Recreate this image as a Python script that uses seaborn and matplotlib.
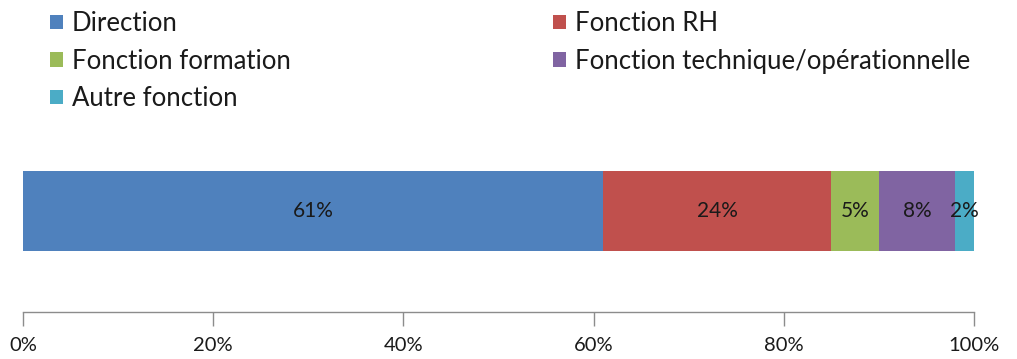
import matplotlib
matplotlib.use("Agg")
import matplotlib.pyplot as plt
import seaborn as sns
import pandas as pd
import numpy as np
from matplotlib.patches import Patch

# Répartition des fonctions (en %)
categories = ["Direction", "Fonction RH", "Fonction formation",
              "Fonction technique/opérationnelle", "Autre fonction"]
values = [61, 24, 5, 8, 2]
colors = ["#4F81BD", "#C0504D", "#9BBB59", "#8064A2", "#4BACC6"]
tick_values = [0, 20, 40, 60, 80, 100]
tick_labels = ["0%", "20%", "40%", "60%", "80%", "100%"]

sns.set_theme(style="white")
plt.rcParams["font.family"] = ["Lato", "DejaVu Sans"]

fig = plt.figure(figsize=(10.17, 3.59), dpi=100)
ax = fig.add_axes([23 / 1017, 1 - 312 / 359, 951 / 1017, 202 / 359])

# Stacked bar: draw cumulative totals from the longest to the shortest
cum = np.cumsum(values)
df = pd.DataFrame({"cat": categories, "val": values, "cum": cum, "row": [""] * len(values)})
for i in range(len(values) - 1, -1, -1):
    sns.barplot(data=df.iloc[[i]], x="cum", y="row", orient="h", color=colors[i],
                saturation=1, width=0.396, ax=ax, linewidth=0)

starts = cum - np.array(values)
for s, v in zip(starts, values):
    ax.text(s + v / 2, 0, f"{v}%", ha="center", va="center", fontsize=15, color="#1a1a1a")

ax.set_xlim(0, 100)
ax.set_ylim(0.5, -0.5)
ax.set_xticks(tick_values)
ax.set_xticklabels(tick_labels, fontsize=14.5)
ax.set_yticks([])
ax.set_xlabel("")
ax.set_ylabel("")
for side in ["left", "top", "right"]:
    ax.spines[side].set_visible(False)
ax.spines["bottom"].set_color("#8c8c8c")
ax.spines["bottom"].set_linewidth(1)
ax.tick_params(axis="x", direction="out", length=10, width=1, color="#8c8c8c",
               bottom=True, pad=8, labelcolor="#1a1a1a")

handles = [Patch(facecolor=c, edgecolor="none") for c in colors]
leg_kw = dict(frameon=False, fontsize=18.5, handlelength=0.5, handleheight=0.5,
              handletextpad=0.35, labelspacing=0.49, borderaxespad=0, borderpad=0,
              labelcolor="#1a1a1a")
leg1 = fig.legend([handles[0], handles[2], handles[4]],
                  [categories[0], categories[2], categories[4]],
                  loc="upper left", bbox_to_anchor=(50 / 1017, 1 - 11 / 359), **leg_kw)
leg2 = fig.legend([handles[1], handles[3]], [categories[1], categories[3]],
                  loc="upper left", bbox_to_anchor=(553 / 1017, 1 - 11 / 359), **leg_kw)

fig.savefig("out.png", dpi=100, facecolor="white")
